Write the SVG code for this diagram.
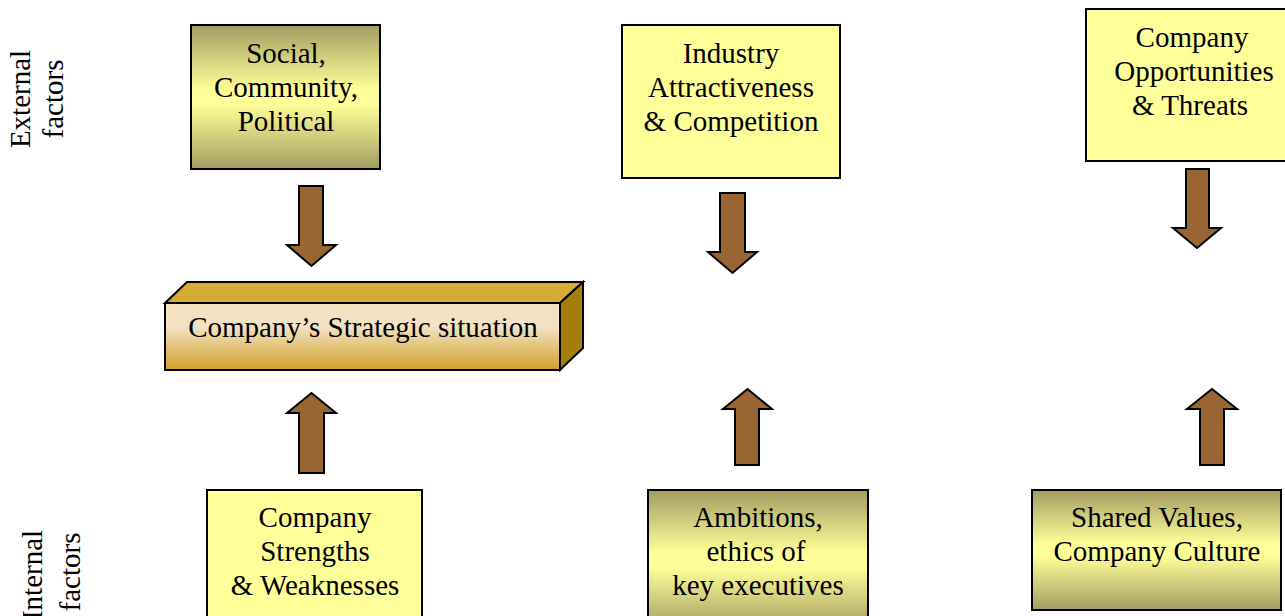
<svg xmlns="http://www.w3.org/2000/svg" width="1285" height="616" viewBox="0 0 1285 616">
  <style>
    text { font-family: "Liberation Serif", "Times New Roman", serif; font-size: 29px; fill: #000; text-anchor: middle; }
    .box { stroke: #000; stroke-width: 2; }
    .plain { fill: #ffff99; }
    .shade { fill: url(#olive); }
    .arrow { fill: #996633; stroke: #000; stroke-width: 2; stroke-linejoin: miter; }
  </style>
  <defs>
    <linearGradient id="olive" x1="0" y1="0" x2="0" y2="1">
      <stop offset="0" stop-color="#a39c62"/>
      <stop offset="0.45" stop-color="#ffff99"/>
      <stop offset="0.55" stop-color="#ffff99"/>
      <stop offset="1" stop-color="#a39c62"/>
    </linearGradient>
    <linearGradient id="front" x1="0" y1="0" x2="0" y2="1">
      <stop offset="0" stop-color="#f2e2c0"/>
      <stop offset="0.35" stop-color="#f3e3c5"/>
      <stop offset="1" stop-color="#d2a028"/>
    </linearGradient>
  </defs>

  <!-- side labels -->
  <g id="label-external">
    <text transform="translate(30,99) rotate(-90)">External</text>
    <text transform="translate(63,99) rotate(-90)">factors</text>
  </g>
  <g id="label-internal">
    <text transform="translate(42,575) rotate(-90)">Internal</text>
    <text transform="translate(80,572) rotate(-90)">factors</text>
  </g>

  <!-- external factor boxes -->
  <g id="social">
    <rect class="box shade" x="191" y="25" width="189" height="144"/>
    <text x="286" y="63">Social,</text>
    <text x="286" y="97">Community,</text>
    <text x="286" y="131">Political</text>
  </g>
  <g id="industry">
    <rect class="box plain" x="622" y="25" width="218" height="153"/>
    <text x="731" y="63">Industry</text>
    <text x="731" y="97">Attractiveness</text>
    <text x="731" y="131">&amp; Competition</text>
  </g>
  <g id="opportunities">
    <rect class="box plain" x="1086" y="9" width="210" height="152"/>
    <text x="1192" y="47">Company</text>
    <text x="1194" y="81">Opportunities</text>
    <text x="1190" y="115">&amp; Threats</text>
  </g>

  <!-- central 3D block -->
  <g id="strategic-situation">
    <polygon class="box" fill="#d6ab36" points="165,303 187,282 583,282 560,303"/>
    <polygon class="box" fill="#a57d0a" points="560,303 583,282 583,348 560,370"/>
    <rect class="box" fill="url(#front)" x="165" y="303" width="395" height="67"/>
    <text x="363" y="337">Company’s Strategic situation</text>
  </g>

  <!-- internal factor boxes -->
  <g id="strengths">
    <rect class="box plain" x="207" y="490" width="215" height="140"/>
    <text x="315" y="527">Company</text>
    <text x="315" y="561">Strengths</text>
    <text x="315" y="595">&amp; Weaknesses</text>
  </g>
  <g id="ambitions">
    <rect class="box shade" x="648" y="490" width="220" height="140"/>
    <text x="758" y="527">Ambitions,</text>
    <text x="756" y="561">ethics of</text>
    <text x="758" y="595">key executives</text>
  </g>
  <g id="values">
    <rect class="box shade" x="1032" y="490" width="249" height="120"/>
    <text x="1157" y="527">Shared Values,</text>
    <text x="1157" y="561">Company Culture</text>
  </g>

  <!-- block arrows -->
  <g id="connectors">
    <polygon class="arrow" points="299,186 323,186 323,245 336,245 311.5,266 287,245 299,245"/>
    <polygon class="arrow" points="720,193 745,193 745,252 757,252 732.5,273 708,252 720,252"/>
    <polygon class="arrow" points="1186,169 1209,169 1209,228 1221,228 1197,248 1173,228 1186,228"/>
    <polygon class="arrow" points="299,473 324,473 324,413 336,413 311.5,393 287,413 299,413"/>
    <polygon class="arrow" points="735,465 759,465 759,409 772,409 747.5,389 723,409 735,409"/>
    <polygon class="arrow" points="1200,465 1224,465 1224,409 1237,409 1212,389 1187,409 1200,409"/>
  </g>
</svg>
